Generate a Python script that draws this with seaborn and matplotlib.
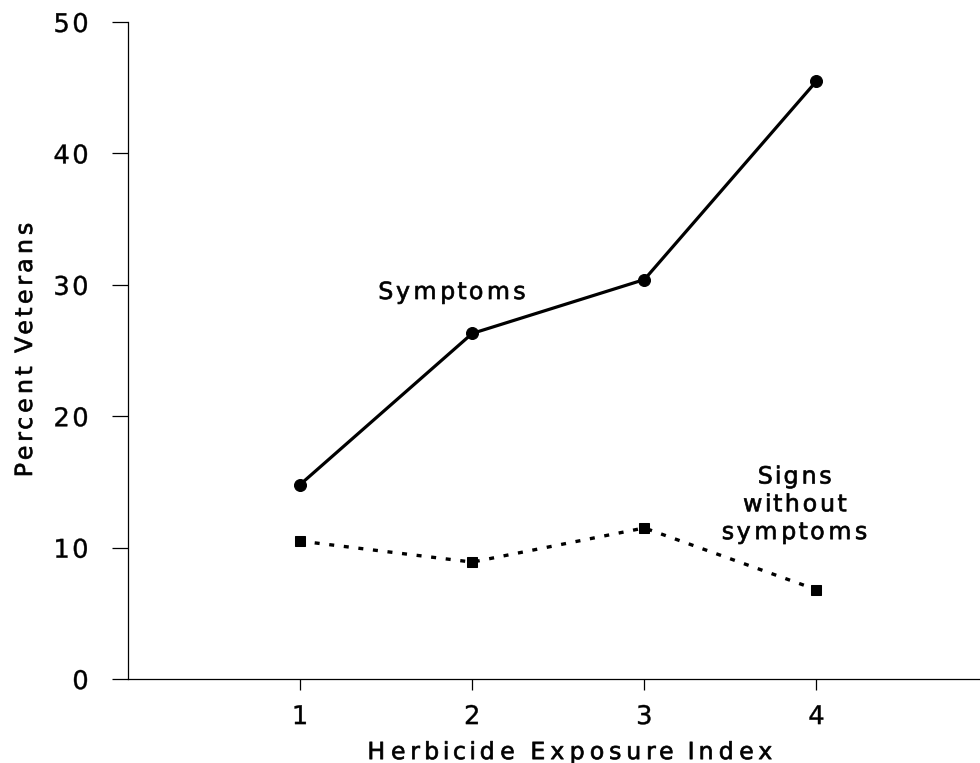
import matplotlib
matplotlib.use("Agg")
import numpy as np
import matplotlib.pyplot as plt
import seaborn as sns
import pandas as pd
from matplotlib.path import Path
from matplotlib.patheffects import AbstractPathEffect

exposure = [1, 2, 3, 4]
symptoms = [14.8, 26.3, 30.4, 45.5]
signs_without = [10.5, 8.9, 11.5, 6.8]
xticks = [1, 2, 3, 4]
yticks = [0, 10, 20, 30, 40, 50]


class Track(AbstractPathEffect):
    """Adds letter spacing (tracking) and a light outline to text drawn as paths."""
    def __init__(self, k, anchor="center", stroke=0.5):
        super().__init__()
        self.k = k
        self.anchor = anchor
        self.stroke = stroke

    def draw_path(self, renderer, gc, tpath, affine, rgbFace=None):
        verts = np.array(tpath.vertices, dtype=float).copy()
        codes = tpath.codes
        gc0 = renderer.new_gc()
        gc0.copy_properties(gc)
        if self.stroke and rgbFace is not None:
            gc0.set_linewidth(self.stroke)
            gc0.set_foreground(rgbFace)
        if codes is None or len(verts) == 0:
            renderer.draw_path(gc0, tpath, affine, rgbFace)
            return
        valid = codes != Path.CLOSEPOLY
        xs = verts[valid, 0]
        xmin, xmax = xs.min(), xs.max()
        starts = np.where(codes == Path.MOVETO)[0]
        ends = list(starts[1:]) + [len(verts)]
        new = verts.copy()
        for s, e in zip(starts, ends):
            seg = verts[s:e]
            m = codes[s:e] != Path.CLOSEPOLY
            cx = 0.5 * (seg[m, 0].min() + seg[m, 0].max())
            new[s:e, 0] += self.k * (cx - xmin)
        grow = self.k * (xmax - xmin)
        if self.anchor == "center":
            new[:, 0] -= grow / 2
        elif self.anchor == "right":
            new[:, 0] -= grow
        renderer.draw_path(gc0, Path(new, codes), affine, rgbFace)
        gc0.restore()


sns.set_theme(style="ticks")
plt.rcParams['font.family'] = ['DejaVu Sans']
plt.rcParams['text.color'] = 'black'

fig = plt.figure(figsize=(9.8, 7.63), dpi=100)
ax = fig.add_axes([0.1306, 0.110, 0.8694, 0.8612])

df1 = pd.DataFrame({"x": exposure, "y": symptoms})
df2 = pd.DataFrame({"x": exposure, "y": signs_without})
sns.lineplot(data=df1, x="x", y="y", ax=ax, color="black", linewidth=2.3,
             marker="o", markersize=8.6, markeredgecolor="black")
sns.lineplot(data=df2, x="x", y="y", ax=ax, color="black", linewidth=2.4,
             linestyle=(0, (1.5, 2.9)), marker="s", markersize=7.5, markeredgecolor="black")

ax.set_xlim(0, 4.95)
ax.set_ylim(0, 50)
ax.set_xticks(xticks)
ax.set_yticks(yticks)
ax.tick_params(axis="both", labelsize=18.5, width=0.9, color="black", labelcolor="black")
ax.tick_params(axis="y", length=11.5, pad=16)
ax.tick_params(axis="x", length=8, pad=10)
for lab in ax.get_yticklabels():
    lab.set_path_effects([Track(0.15, "right", stroke=0.3)])
for lab in ax.get_xticklabels():
    lab.set_path_effects([Track(0.0, "center", stroke=0.3)])

ax.set_xlabel("Herbicide Exposure Index", fontsize=17, color="black")
ax.set_ylabel("Percent Veterans", fontsize=17, color="black")
ax.xaxis.set_label_coords(0.5188, -0.1218)
ax.xaxis.label.set_verticalalignment("baseline")
ax.yaxis.set_label_coords(-0.1127, 0.5008)
ax.yaxis.label.set_verticalalignment("baseline")
ax.xaxis.label.set_path_effects([Track(0.36)])
ax.yaxis.label.set_path_effects([Track(0.29)])

for s in ["top", "right"]:
    ax.spines[s].set_visible(False)
for s in ["left", "bottom"]:
    ax.spines[s].set_color("black")
    ax.spines[s].set_linewidth(0.9)

t1 = ax.text(1.882, 28.92, "Symptoms", fontsize=17, ha="center", va="baseline", color="black")
t1.set_path_effects([Track(0.19)])
t2 = ax.text(3.873, 10.27, "Signs\nwithout\nsymptoms", fontsize=17, ha="center", va="bottom",
             linespacing=1.2, color="black")
t2.set_path_effects([Track(0.2)])

fig.savefig("out.png", dpi=100)
